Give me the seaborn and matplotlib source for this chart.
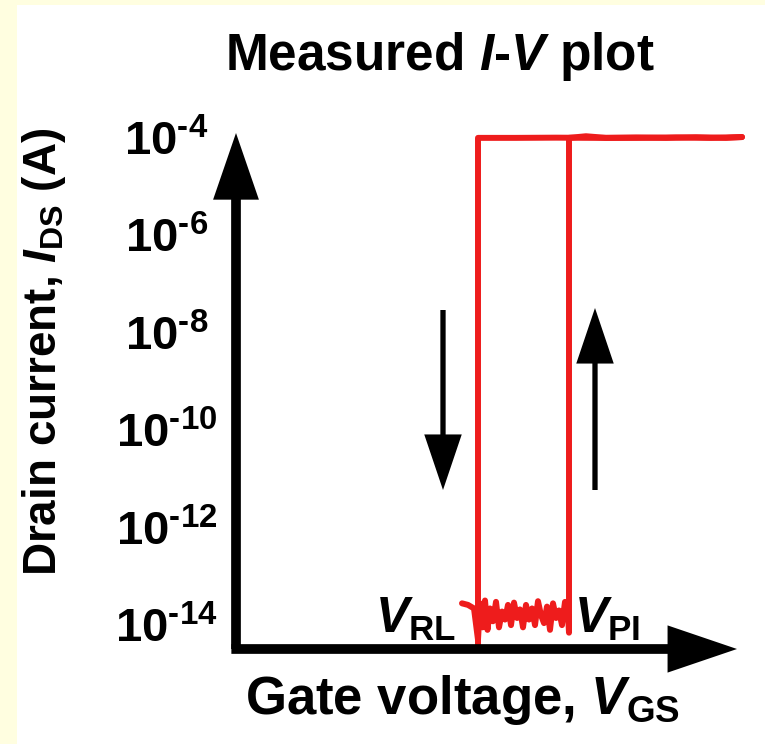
import matplotlib
matplotlib.use("Agg")
import matplotlib.pyplot as plt
import seaborn as sns
import pandas as pd
from matplotlib.patches import Rectangle

# ---------------- data ----------------
# forward sweep (increasing gate voltage): off-state noise, jump at V_PI
v_up = [4.52, 4.64, 4.76, 4.84, 4.88, 4.93, 4.98, 5.03, 5.08, 5.14, 5.20, 5.26,
        5.32, 5.38, 5.44, 5.50, 5.56, 5.62, 5.68, 5.74, 5.80, 5.86, 5.92, 5.98,
        6.04, 6.10, 6.16, 6.22, 6.28, 6.34, 6.40, 6.46, 6.52, 6.58, 6.64, 6.66,
        6.66, 7.0, 7.4, 8.0, 8.6, 9.2, 9.8, 10.12]
i_up = [2.8e-14, 2.6e-14, 2.2e-14, 5e-15, 2.8e-14, 9e-15, 3.2e-14, 8e-15, 2.2e-14,
        1.2e-14, 3.0e-14, 9e-15, 1.9e-14, 1.3e-14, 2.6e-14, 1.0e-14, 2.9e-14,
        1.4e-14, 2.1e-14, 9e-15, 2.6e-14, 1.3e-14, 2.2e-14, 1.0e-14, 3.1e-14,
        1.6e-14, 1.1e-14, 2.4e-14, 8e-15, 2.8e-14, 1.4e-14, 2.0e-14, 1.0e-14,
        3.0e-14, 1.7e-14, 7e-15,
        1.0e-4, 1.08e-4, 1.0e-4, 1.02e-4, 1.0e-4, 1.03e-4, 1.0e-4, 1.04e-4]
# reverse sweep (decreasing gate voltage): on-state, drop at V_RL
v_down = [10.12, 9.5, 8.8, 8.0, 7.2, 6.4, 5.6, 4.84, 4.84]
i_down = [1.04e-4, 1.0e-4, 1.02e-4, 1.0e-4, 1.0e-4, 1.01e-4, 1.0e-4, 1.0e-4, 1e-16]

ytick_vals = [1e-4, 1e-6, 1e-8, 1e-10, 1e-12, 1e-14]
ytick_labels = [r"$10^{\text{-}4}$", r"$10^{\text{-}6}$", r"$10^{\text{-}8}$",
                r"$10^{\text{-}10}$", r"$10^{\text{-}12}$", r"$10^{\text{-}14}$"]
title_text = r"Measured $I\text{-}V$ plot"
xlabel_text = r"Gate voltage, $V_{\rm GS}$"
ylabel_text = r"Drain current, $I_{\rm DS}$ (A)"
label_rl = r"$V_{\rm RL}$"
label_pi = r"$V_{\rm PI}$"

# ---------------- style ----------------
sns.set_style("white")
plt.rcParams["font.family"] = ["Liberation Sans", "DejaVu Sans"]
plt.rcParams["font.weight"] = "bold"
plt.rcParams["text.color"] = "black"
plt.rcParams["ytick.color"] = "black"
plt.rcParams["mathtext.fontset"] = "custom"
plt.rcParams["mathtext.rm"] = "Liberation Sans:bold"
plt.rcParams["mathtext.bf"] = "Liberation Sans:bold"
plt.rcParams["mathtext.it"] = "Liberation Sans:italic:bold"
plt.rcParams["mathtext.default"] = "it"

W, H = 765, 744
fig = plt.figure(figsize=(W / 100, H / 100), dpi=100)
fig.patch.set_facecolor("#FFFEE0")
fig.add_artist(Rectangle((17 / W, 0), 1, (H - 5) / H, transform=fig.transFigure,
                         facecolor="white", edgecolor="none", zorder=-5))

x0, x1 = 236, 750
ybot, ytop = 649, 133
ax = fig.add_axes([x0 / W, (H - ybot) / H, (x1 - x0) / W, (ybot - ytop) / H])
ax.set_facecolor("none")

red = "#EE1C1C"
df_up = pd.DataFrame({"v": v_up, "i": i_up})
df_down = pd.DataFrame({"v": v_down, "i": i_down})
sns.lineplot(data=df_up, x="v", y="i", sort=False, estimator=None, color=red,
             lw=4.3, ax=ax, zorder=3)
sns.lineplot(data=df_down, x="v", y="i", sort=False, estimator=None, color=red,
             lw=4.3, ax=ax, zorder=3)

ax.set_yscale("log")
ax.set_ylim(10 ** -14.49, 10 ** -3.90)
ax.set_xlim(0, (x1 - x0) / 50)
ax.set_xticks([])
ax.set_yticks(ytick_vals)
ax.set_yticklabels(ytick_labels)
ax.yaxis.set_minor_locator(matplotlib.ticker.NullLocator())
ax.tick_params(axis="y", length=0, pad=50, labelsize=34, labelcolor="black")
for t in ax.get_yticklabels():
    t.set_ha("center")
ax.set_xlabel("")
ax.set_ylabel("")
for s in ax.spines.values():
    s.set_visible(False)

# axis arrows
ax.annotate("", xy=(0, 1), xytext=(0, 0), xycoords="axes fraction",
            arrowprops=dict(arrowstyle="simple,head_length=48,head_width=33,tail_width=7",
                            mutation_scale=1, color="black", lw=0,
                            shrinkA=0, shrinkB=0), annotation_clip=False, zorder=4)
ax.annotate("", xy=((737 - x0) / (x1 - x0), 0), xytext=(-0.009, 0),
            xycoords="axes fraction",
            arrowprops=dict(arrowstyle="simple,head_length=50,head_width=34,tail_width=7",
                            mutation_scale=1, color="black", lw=0,
                            shrinkA=0, shrinkB=0), annotation_clip=False, zorder=4)

# sweep-direction arrows
def frac_x(px):
    return (px - x0) / (x1 - x0)

def frac_y(py):
    return (ybot - py) / (ybot - ytop)

ax.annotate("", xy=(frac_x(443), frac_y(490)), xytext=(frac_x(443), frac_y(310)),
            xycoords="axes fraction",
            arrowprops=dict(arrowstyle="simple,head_length=40,head_width=27,tail_width=3.8",
                            mutation_scale=1, color="black", lw=0,
                            shrinkA=0, shrinkB=0), zorder=4)
ax.annotate("", xy=(frac_x(595), frac_y(308)), xytext=(frac_x(595), frac_y(490)),
            xycoords="axes fraction",
            arrowprops=dict(arrowstyle="simple,head_length=40,head_width=27,tail_width=3.8",
                            mutation_scale=1, color="black", lw=0,
                            shrinkA=0, shrinkB=0), zorder=4)

# labels
ax.text(frac_x(456), frac_y(633), label_rl, transform=ax.transAxes, ha="right",
        va="baseline", fontsize=36)
ax.text(frac_x(574), frac_y(633), label_pi, transform=ax.transAxes, ha="left",
        va="baseline", fontsize=36)

fig.text(440 / W, (H - 70) / H, title_text, ha="center", va="baseline", fontsize=37)
fig.text(462 / W, (H - 714) / H, xlabel_text, ha="center", va="baseline", fontsize=38)
fig.text(44 / W, (H - 352) / H, ylabel_text, ha="center", va="center",
         rotation=90, fontsize=33)

fig.savefig("out.png", dpi=100, facecolor=fig.get_facecolor())
